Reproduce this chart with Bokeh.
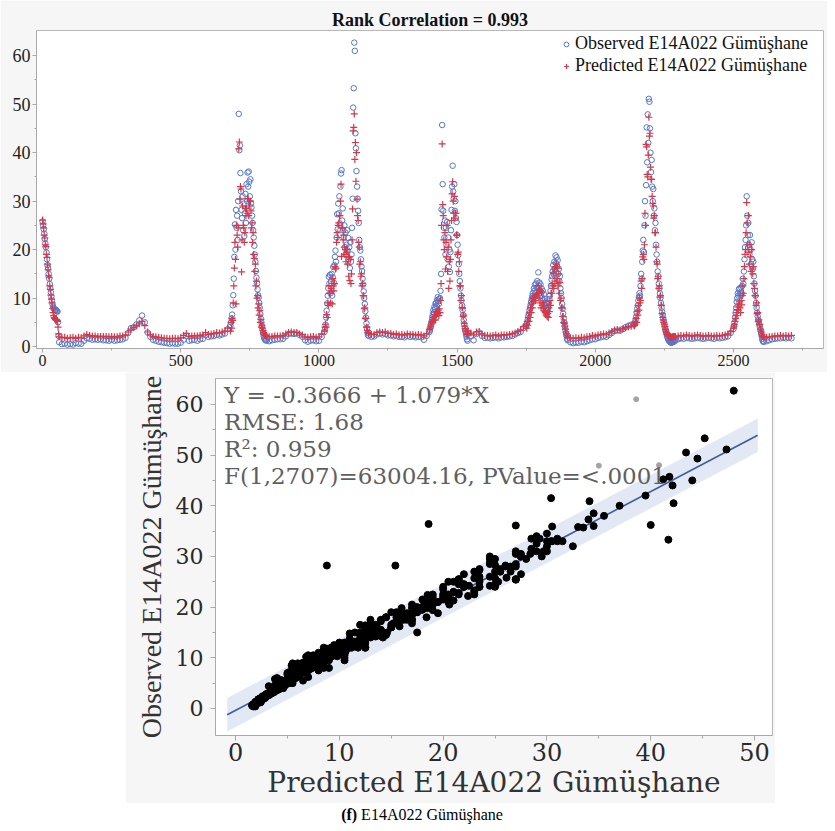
from bokeh.plotting import figure
from bokeh.models import (Range1d, FixedTicker, Legend, LegendItem, Label, Div, Spacer)
from bokeh.layouts import column, row
from bokeh.embed import file_html
from bokeh.resources import INLINE
import numpy as np

# ---------------- data ----------------
# sampling positions along the record: every 2 steps through the peaks, every 10 on the flat baseline
time_index = (list(range(0, 60, 2)) + list(range(60, 680, 10)) + list(range(680, 810, 2))
              + list(range(810, 1020, 10)) + list(range(1020, 1180, 2)) + list(range(1180, 1400, 10))
              + list(range(1400, 1540, 2)) + list(range(1540, 1750, 10)) + list(range(1750, 1900, 2))
              + list(range(1900, 2140, 10)) + list(range(2140, 2290, 2)) + list(range(2290, 2500, 10))
              + list(range(2500, 2610, 2)) + list(range(2610, 2720, 10)))

observed = [
    # 0-58
    25.8,25.0,24.2,23.3,22.2,21.3,20.5,19.4,18.0,16.8, 16.2,15.0,14.0,12.9,12.0,11.2,10.3,9.5,8.7,8.2,
    7.9,7.8,7.6,7.5,7.6,7.4,7.3,7.2,5.0,2.2,
    # 60-670
    0.9,0.5,0.6,0.4,0.5,0.4,0.7,0.6,0.6,1.2, 1.7,1.6,1.4,1.5,1.4,1.5,1.3,1.3,1.2,1.4,
    1.2,1.3,1.4,1.5,1.8,2.8,3.8,4.0,4.6,5.4, 6.4,5.0,2.9,2.0,1.4,1.2,1.0,0.9,0.8,0.7,
    0.6,0.7,0.6,0.6,0.8,1.4,2.2,1.2,1.3,1.4, 1.2,1.5,1.6,2.4,2.0,2.1,2.2,2.4,2.3,2.5,
    2.7,3.6,
    # 680-808
    4.4,5.0,5.8,6.6,8.5,10.6,14.0,18.5,25.2,20.0, 28.2,24.5,27.0,22.0,30.0,48.0,40.5,41.5,35.8,32.0,
    28.2,26.5,31.0,24.0,29.5,22.8,27.5,31.5,25.5,33.5, 30.0,35.9,33.0,36.1,34.0,31.0,34.5,29.5,28.7,27.0,
    25.5,24.0,22.5,20.8,19.0,17.5,15.6,14.2,13.0,11.8, 10.6,10.1,9.0,8.0,6.7,5.8,5.0,4.2,3.5,2.8,
    2.2,1.8,1.5,1.4,1.3,
    # 810-1010
    1.2,1.1,1.3,1.4,1.5,1.5,1.6,2.1,2.6,2.7, 2.6,2.7,2.4,2.0,1.3,1.0,1.2,1.3,1.1,1.2, 2.0,
    # 1020-1178
    3.0,3.6,4.5,6.0,7.4,8.9,10.5,12.0,14.4,13.0, 14.8,11.0,13.5,15.0,10.5,14.3,16.4,13.2,16.8,18.5,
    19.8,17.5,22.5,27.3,24.2,29.5,27.5,31.0,25.4,33.0, 35.7,36.4,26.0,28.5,24.0,22.5,25.0,20.5,23.5,19.0,
    21.0,24.0,19.8,22.4,18.0,20.5,16.2,21.5,17.5,19.0, 24.5,30.5,49.3,53.3,62.7,61.0,44.0,40.9,36.2,33.0,
    30.5,28.0,25.5,22.0,20.5,19.8,18.0,16.5,15.6,14.0, 12.8,11.4,10.0,8.8,7.3,6.0,4.8,3.7,2.8,2.3,
    # 1180-1390
    2.2,2.0,2.1,2.5,2.7,2.5,2.6,2.3,2.3,2.1, 2.2,2.0,2.0,1.9,2.2,2.0,2.1,1.9,2.0,1.9, 1.4,2.2,
    # 1400-1538
    3.0,3.4,4.0,4.5,5.2,6.0,6.6,7.5,7.0,8.2, 7.8,8.9,9.0,8.4,9.6,10.2,9.4,8.8,9.8,10.0,
    11.5,15.0,28.3,45.7,33.5,28.0,24.5,22.5,26.0,19.0, 24.5,21.0,25.7,18.0,22.5,16.5,20.0,15.4,19.5,24.0,
    28.2,33.0,37.3,32.0,30.5,33.5,28.0,30.0,26.5,25.7, 23.0,21.0,18.8,17.0,15.0,13.5,12.0,10.5,9.5,8.5,
    7.5,6.5,5.5,4.6,3.8,3.2,2.6,2.0,1.5,1.2,
    # 1540-1740
    2.8,2.2,1.3,2.6,2.9,2.2,1.8,1.8,1.7,1.8, 1.9,1.7,1.9,1.9,2.0,2.1,2.2,2.5,2.8,3.0, 3.8,
    # 1750-1898
    4.2,4.6,5.0,5.6,6.3,6.8,7.5,8.0,8.6,9.2, 9.8,10.4,11.0,10.2,12.0,11.5,12.8,11.0,13.0,12.2,
    13.5,12.0,15.3,12.5,13.2,11.0,12.8,10.5,12.0,10.0, 11.5,9.5,10.8,9.0,9.8,8.5,9.0,8.0,8.8,7.5,
    8.2,9.0,9.8,10.5,11.5,12.5,13.8,14.5,15.5,16.8, 15.0,17.5,16.0,18.8,17.2,18.4,16.5,17.8,15.0,16.0,
    13.5,14.5,12.0,11.0,10.0,8.8,7.8,6.8,5.8,5.0, 4.2,3.5,2.8,2.2,1.6,
    # 1900-2130
    1.3,0.9,0.7,0.8,0.8,1.0,0.9,1.1,1.3,1.5, 1.5,1.8,1.9,2.1,2.0,2.4,2.8,3.2,3.3,3.3, 3.6,4.0,4.3,4.5,
    # 2140-2288
    4.7,4.6,5.0,5.5,6.2,7.0,7.8,8.5,9.5,10.2, 11.0,10.5,12.5,15.0,14.0,17.5,19.8,22.0,19.5,25.0,
    30.0,27.0,33.3,45.2,38.0,47.9,42.0,51.1,50.5,45.0, 40.0,36.0,38.5,33.0,30.0,32.5,27.0,28.5,24.0,25.5,
    21.0,19.0,17.5,15.5,14.5,13.0,12.0,11.0,10.0,9.0, 8.0,7.2,6.5,5.8,5.2,4.6,4.0,3.5,3.0,2.5,
    2.1,1.8,1.5,1.3,1.1,1.0,0.9,0.8,0.8,0.9, 0.9,1.0,1.0,1.1,1.2,
    # 2290-2490
    1.3,1.5,1.7,1.6,1.8,1.7,1.6,1.7,1.8,1.7, 1.6,1.7,1.8,1.7,1.6,1.8,1.7,1.8,1.9,2.1, 2.8,
    # 2500-2608
    3.6,4.2,5.0,6.0,7.0,8.0,9.2,10.0,11.0,10.5, 11.8,12.0,11.0,10.5,12.2,11.0,12.5,14.0,13.0,15.5,
    18.0,20.5,22.0,25.0,31.0,27.0,23.0,25.5,21.0,19.0, 23.0,20.0,17.0,21.5,18.0,16.0,17.5,14.5,13.0,11.5,
    10.5,9.0,8.0,7.0,6.2,5.5,5.0,4.5,4.0,3.4, 2.8,2.2,1.6,1.2,1.0,
    # 2610-2710
    1.0,1.1,1.3,1.5,1.6,1.7,1.7,1.8,1.7,1.8,1.7,
]

predicted = [
    # 0-58
    26.1,25.3,24.5,23.0,22.4,21.0,20.6,19.0,18.4,17.0, 15.8,14.6,14.2,12.5,11.8,10.6,9.8,9.0,7.8,7.0,
    6.4,6.0,5.8,5.6,5.5,5.6,5.4,5.2,4.0,2.6,
    # 60-670
    2.0,1.8,1.9,1.7,1.8,1.9,1.7,1.9,1.8,2.2, 2.5,2.3,2.2,2.2,2.1,2.1,2.1,2.1,2.0,2.1,
    2.0,2.0,2.2,2.2,2.4,3.0,3.6,3.9,4.3,4.7, 5.2,4.3,3.0,2.4,2.1,2.0,1.9,1.8,1.7,1.7,
    1.6,1.7,1.7,1.6,1.8,2.3,2.7,2.1,2.2,2.2, 2.2,2.3,2.4,2.9,2.5,2.6,2.7,2.9,2.8,3.0,
    3.2,3.8,
    # 680-808
    3.2,5.0,3.8,5.8,5.4,9.0,12.5,16.2,21.5,18.0, 8.8,25.0,23.0,20.5,24.5,40.8,42.2,30.4,33.0,32.5,
    15.4,22.0,29.0,25.0,24.5,21.5,23.5,28.5,27.0,28.5, 27.5,30.5,30.5,27.0,29.0,30.0,30.0,28.0,24.5,25.5,
    21.5,23.5,19.0,18.2,15.5,17.0,12.5,13.5,10.0,10.5, 8.0,8.8,6.5,7.4,5.0,5.6,4.0,4.4,3.8,3.3,
    2.9,2.6,2.4,2.3,2.2,
    # 810-1010
    2.1,2.0,2.1,2.2,2.2,2.2,2.3,2.6,2.9,3.0, 2.9,2.9,2.6,2.4,2.0,1.9,2.0,2.1,1.9,2.0, 2.6,
    # 1020-1178
    3.2,4.0,4.6,4.0,6.6,6.0,9.0,8.5,12.5,11.0, 11.0,9.0,12.0,11.5,8.8,14.0,12.5,11.5,13.0,16.5,
    16.0,16.2,21.5,23.5,22.5,25.0,25.5,27.0,27.0,30.0, 33.5,18.6,24.5,24.5,22.0,23.0,20.5,19.0,20.0,17.5,
    19.5,20.0,17.0,18.5,14.5,18.5,13.6,18.0,13.0,15.0, 22.0,28.4,44.5,45.2,48.0,38.6,42.1,34.1,40.0,30.4,
    27.0,26.0,21.5,20.5,17.0,17.5,14.5,15.0,12.5,13.0, 10.5,10.5,7.8,8.0,5.8,5.8,4.0,4.0,3.3,2.9,
    # 1180-1390
    2.7,2.5,2.5,2.9,3.0,2.9,3.0,2.7,2.7,2.5, 2.6,2.4,2.5,2.4,2.6,2.5,2.5,2.4,2.5,2.4, 2.2,2.6,
    # 1400-1538
    3.5,3.8,4.2,4.6,4.9,5.2,5.5,6.0,5.4,6.6, 6.2,5.5,7.2,6.5,7.0,6.8,7.5,6.4,7.8,7.0,
    9.5,13.0,25.0,41.8,29.3,27.0,22.0,20.0,23.5,16.0, 21.5,18.5,25.0,15.5,20.5,12.0,17.5,13.5,18.0,22.0,
    26.0,31.5,34.0,30.0,27.5,31.0,26.5,27.5,27.5,23.0, 23.0,19.0,19.5,15.5,17.5,12.5,12.5,9.5,10.5,8.0,
    8.0,6.2,6.5,4.8,4.2,3.7,3.2,2.8,2.5,2.4,
    # 1540-1740
    3.2,2.8,2.4,3.0,3.1,2.6,2.3,2.3,2.2,2.3, 2.4,2.2,2.4,2.4,2.4,2.5,2.6,2.8,3.1,3.4, 4.1,
    # 1750-1898
    4.5,3.8,5.2,4.4,6.0,5.2,7.0,6.0,8.0,7.0, 8.8,8.0,10.0,9.2,9.5,10.2,10.0,9.5,10.5,10.8,
    11.0,11.0,12.5,10.0,11.8,9.0,11.5,8.0,11.2,8.5, 9.0,8.0,8.5,7.5,7.2,7.0,6.5,6.8,6.2,6.8,
    6.0,8.0,7.2,9.5,8.5,11.0,11.0,13.0,12.5,15.2, 12.0,16.0,13.0,16.5,14.0,17.0,13.5,16.2,12.5,15.0,
    11.0,13.2,9.5,10.0,8.0,8.0,6.2,6.2,5.0,4.8, 4.2,3.6,3.0,2.6,2.2,
    # 1900-2130
    1.9,1.8,1.7,1.8,1.7,1.9,1.8,2.0,2.1,2.3, 2.2,2.4,2.5,2.6,2.5,2.8,3.1,3.4,3.5,3.4, 3.7,3.9,4.1,4.2,
    # 2140-2288
    4.4,4.3,4.6,5.0,5.8,5.0,7.2,6.5,8.5,7.5, 10.0,9.0,9.5,13.5,12.0,14.0,18.5,19.0,18.0,21.0,
    27.5,25.0,41.7,41.2,35.5,35.0,39.5,47.3,43.4,44.0, 37.0,34.5,34.5,31.0,29.5,29.0,26.5,27.0,23.5,23.5,
    20.5,17.5,17.0,14.0,14.5,12.0,12.5,10.2,10.5,8.5, 8.5,6.8,6.0,5.5,5.0,4.6,4.1,3.6,3.2,2.9,
    2.6,2.4,2.3,2.2,2.1,2.0,2.0,1.9,1.9,1.9, 2.0,2.0,2.0,2.0,2.1,
    # 2290-2490
    2.1,2.2,2.3,2.2,2.4,2.3,2.2,2.3,2.4,2.3, 2.2,2.2,2.3,2.2,2.2,2.3,2.2,2.3,2.4,2.6, 3.1,
    # 2500-2608
    3.8,4.2,4.6,5.2,5.8,6.4,7.0,7.6,8.2,7.5, 8.8,9.2,8.0,7.0,9.5,8.6,10.5,12.5,11.0,14.0,
    16.5,19.0,20.0,23.5,29.7,25.5,21.0,27.0,19.5,17.0, 21.0,18.5,15.5,20.0,16.0,15.0,16.5,13.0,12.0,10.5,
    10.5,8.5,9.0,6.8,7.0,5.2,5.5,4.5,4.6,3.6, 3.2,2.8,2.4,2.1,2.0,
    # 2610-2710
    1.9,1.9,2.0,2.1,2.2,2.2,2.3,2.2,2.3,2.2,2.3,
]

# rows shown greyed-out (excluded) in the scatter plot
excluded_index = [710, 1130, 2190]

# fit statistics
fit_intercept = -0.3666
fit_slope = 1.079
rmse = 1.68
fit_span = [-0.8, 50.3]
stat_lines = [
    "Y = -0.3666 + 1.079*X",
    "RMSE: 1.68",
    "R\u00b2: 0.959",
    "F(1,2707)=63004.16, PValue=<.0001",
]
stat_pos_y = [61.8, 56.5, 51.2, 45.9]

top_x_ticks = [0, 500, 1000, 1500, 2000, 2500]
top_x_minor = [250, 750, 1250, 1750, 2250, 2750]
top_y_ticks = [0, 10, 20, 30, 40, 50, 60]
top_y_minor = [5, 15, 25, 35, 45, 55]
bot_x_ticks = [0, 10, 20, 30, 40, 50]
bot_x_minor = [5, 15, 25, 35, 45]
bot_y_ticks = [0, 10, 20, 30, 40, 50, 60]
bot_y_minor = [5, 15, 25, 35, 45, 55]

n = min(len(time_index), len(observed), len(predicted))
time_index, observed, predicted = time_index[:n], observed[:n], predicted[:n]

SERIF = "Liberation Serif"
WIDE = "DejaVu Serif"
BG = "#f6f6f6"
AX = "#a9a9a9"

# ---------------- top: time series ----------------
top = figure(width=827, height=372, output_backend="svg", toolbar_location=None,
             x_range=Range1d(-22, 2826), y_range=Range1d(-0.4, 65.2),
             min_border_left=36, min_border_right=4, min_border_top=30, min_border_bottom=24,
             border_fill_color=BG, background_fill_color="white",
             outline_line_color="#b8b8b8", title="Rank Correlation = 0.993")
top.title.align = "center"
top.title.text_font = SERIF
top.title.text_font_size = "18px"
top.title.text_font_style = "bold"
top.title.text_color = "#111111"
top.title.standoff = 2
top.title.offset = 0
top.xgrid.visible = False
top.ygrid.visible = False

obs_r = top.scatter(time_index, observed, marker="circle", size=5.5,
                    fill_color=None, line_color="#5577cc", line_width=1.0)
pred_r = top.scatter(time_index, predicted, marker="cross", size=7,
                     line_color="#d2394b", line_width=1.2)

for ax in (top.xaxis[0], top.yaxis[0]):
    ax.axis_line_color = AX
    ax.major_tick_line_color = AX
    ax.minor_tick_line_color = AX
    ax.major_tick_in = 0
    ax.major_tick_out = 4
    ax.minor_tick_in = 0
    ax.minor_tick_out = 2
    ax.major_label_text_font = SERIF
    ax.major_label_text_color = "#222222"
    ax.major_label_standoff = 2
top.xaxis.ticker = FixedTicker(ticks=top_x_ticks, minor_ticks=top_x_minor)
top.yaxis.ticker = FixedTicker(ticks=top_y_ticks, minor_ticks=top_y_minor)
top.xaxis.major_label_text_font_size = "16px"
top.yaxis.major_label_text_font_size = "18px"

# legend box anchored by its bottom-left corner, in pixels from the frame's bottom-left
legend = Legend(items=[LegendItem(label="Observed E14A022 G\u00fcm\u00fc\u015fhane", renderers=[obs_r]),
                       LegendItem(label="Predicted E14A022 G\u00fcm\u00fc\u015fhane", renderers=[pred_r])],
                location=(524, 272))
legend.border_line_color = None
legend.background_fill_alpha = 0
legend.label_text_font = SERIF
legend.label_text_font_size = "18px"
legend.label_text_color = "#111111"
legend.glyph_width = 12
legend.glyph_height = 16
legend.label_height = 18
legend.spacing = 1
legend.padding = 2
legend.margin = 0
legend.label_standoff = 3
top.add_layout(legend)

# ---------------- bottom: observed vs predicted ----------------
bot = figure(width=650, height=431, output_backend="svg", toolbar_location=None,
             x_range=Range1d(-1.93, 51.73), y_range=Range1d(-5.33, 65.1),
             min_border_left=90, min_border_right=3, min_border_top=6, min_border_bottom=68,
             border_fill_color=BG, background_fill_color="white",
             outline_line_color="#b8b8b8")
bot.xgrid.visible = False
bot.ygrid.visible = False

fx = np.array(fit_span)
fy = fit_intercept + fit_slope * fx
half = 1.96 * rmse
bot.varea(x=fx, y1=fy - half, y2=fy + half, fill_color="#dfe6f3", fill_alpha=0.9)
bot.line(fx, fy, line_color="#3d5b9f", line_width=1.6)

ex = set(excluded_index)
inc_x = [p for t, p in zip(time_index, predicted) if t not in ex]
inc_y = [o for t, o in zip(time_index, observed) if t not in ex]
exc_x = [p for t, p in zip(time_index, predicted) if t in ex]
exc_y = [o for t, o in zip(time_index, observed) if t in ex]
bot.scatter(inc_x, inc_y, marker="circle", size=7, fill_color="black", line_color="black")
bot.scatter(exc_x, exc_y, marker="circle", size=5, fill_color="#a3a3a3", line_color="#a3a3a3")

for txt, yy in zip(stat_lines, stat_pos_y):
    bot.add_layout(Label(x=-1.1, y=yy, text=txt, text_font=WIDE, text_font_size="23px",
                         text_color="#5f5f5f", text_baseline="middle", text_align="left"))

for ax in (bot.xaxis[0], bot.yaxis[0]):
    ax.axis_line_color = AX
    ax.major_tick_line_color = AX
    ax.minor_tick_line_color = AX
    ax.major_tick_in = 0
    ax.major_tick_out = 5
    ax.minor_tick_in = 0
    ax.minor_tick_out = 3
    ax.major_label_text_font = WIDE
    ax.major_label_text_color = "#2a2a2a"
    ax.axis_label_text_font_style = "normal"
    ax.axis_label_text_color = "#333333"
bot.xaxis.ticker = FixedTicker(ticks=bot_x_ticks, minor_ticks=bot_x_minor)
bot.yaxis.ticker = FixedTicker(ticks=bot_y_ticks, minor_ticks=bot_y_minor)
bot.xaxis.major_label_text_font_size = "24px"
bot.yaxis.major_label_text_font_size = "22px"
bot.xaxis.major_label_standoff = 2
bot.yaxis.major_label_standoff = 7
bot.xaxis.axis_label = "Predicted E14A022 G\u00fcm\u00fc\u015fhane"
bot.xaxis.axis_label_text_font = WIDE
bot.xaxis.axis_label_text_font_size = "28px"
bot.xaxis.axis_label_standoff = 2
bot.yaxis.axis_label = "Observed E14A022 G\u00fcm\u00fc\u015fhane"
bot.yaxis.axis_label_text_font = SERIF
bot.yaxis.axis_label_text_font_size = "28px"
bot.yaxis.axis_label_standoff = 6

caption = Div(text="<b>(f)</b> E14A022 G\u00fcm\u00fc\u015fhane", width=800, height=23, margin=0,
              styles={"font-family": SERIF, "font-size": "16px", "text-align": "center",
                      "color": "#000000", "line-height": "23px", "width": "800px"})

layout = column(top,
                row(Spacer(width=125, height=431), bot),
                row(Spacer(width=22, height=23), caption))

open("out.html", "w").write(file_html(layout, INLINE))
